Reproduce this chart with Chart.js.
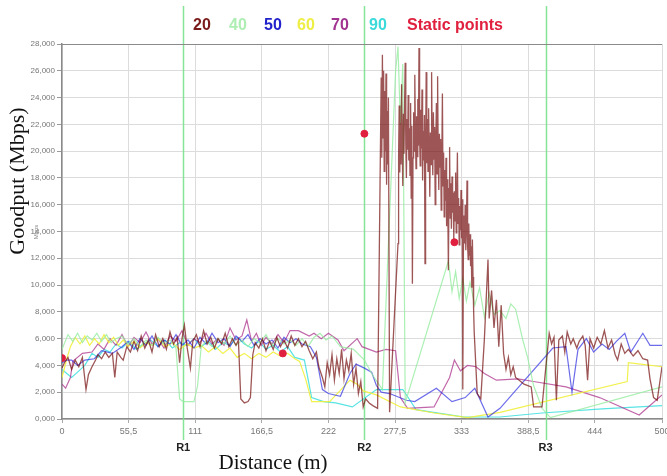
<!DOCTYPE html>
<html>
<head>
<meta charset="utf-8">
<script src="https://cdn.jsdelivr.net/npm/chart.js@4/dist/chart.umd.min.js"></script>
<style>
  html, body { margin: 0; padding: 0; background: #fff; }
  #goodputChart { display: block; }
</style>
</head>
<body>
<canvas id="goodputChart" width="667" height="476"></canvas>
<script>
// distance (m) on x, goodput on y
const distanceTicks = [0, 55.5, 111, 166.5, 222, 277.5, 333, 388.5, 444, 500];
const regionMarks = [101, 252, 403];
const regionNames = ['R1', 'R2', 'R3'];
const seriesNames = ['20', '40', '50', '60', '70', '90'];

const goodput20 = [[0,3.8],[2,4.2],[5,4.6],[8,3.7],[11,4.4],[14,3.9],[17,4.6],[20,2.2],[22,3.3],[25,3.9],[28,4.4],[30,4.8],[33,4.5],[36,5.0],[39,4.6],[42,4.9],[44,3.1],[46,5.0],[49,4.6],[51,4.4],[54,5.4],[57,5.0],[60,5.8],[63,5.1],[66,6.2],[69,5.3],[72,5.9],[75,5.0],[78,6.3],[81,5.4],[84,6.0],[87,5.2],[90,6.5],[93,5.6],[96,6.1],[98,4.2],[100,6.0],[102,7.0],[104,5.5],[107,3.8],[109,5.8],[112,6.3],[115,5.4],[118,6.6],[121,5.6],[124,6.1],[127,5.3],[130,6.0],[133,5.6],[136,6.4],[139,5.4],[142,6.0],[145,5.5],[147,5.9],[149,1.5],[152,1.2],[155,1.3],[157,1.6],[159,4.8],[161,5.7],[164,5.3],[167,6.0],[170,5.1],[173,5.8],[176,5.2],[179,6.1],[182,5.4],[185,5.9],[188,5.3],[191,6.2],[194,5.5],[197,6.0],[200,5.4],[203,5.8],[206,5.1],[209,4.5],[212,5.0],[214,3.9],[217,3.1],[219,2.4],[221,4.2],[223,3.3],[225,4.8],[227,2.9],[229,4.5],[231,3.4],[233,5.2],[235,3.0],[237,4.4],[239,3.6],[241,4.9],[243,2.6],[245,3.8],[247,1.9],[249,2.8],[251,0.9],[253,1.5],[256,1.2],[259,1.0],[263,0.8],[266,25.5],[266.5,19.5],[267,27.2],[267.5,21.0],[268,26.0],[268.5,18.5],[269,24.5],[269.5,20.0],[270,25.8],[270.5,17.5],[271,23.0],[271.5,19.0],[272,24.0],[273,0.5],
  [280,13.1],[280.5,19.6],[281,23.4],[281.5,18.4],[282,22.1],[282.5,19.0],[283,25.0],[283.5,20.2],[284,17.4],[284.5,22.8],[285,19.8],[285.5,23.5],[286,26.6],[286.5,20.5],[287,18.0],[287.5,22.4],[288,20.1],[288.5,24.2],[289,19.3],[289.5,21.7],[290,18.2],[290.5,23.6],[291,16.5],[291.5,21.9],[292,10.1],[292.5,19.5],[293,22.9],[293.5,20.0],[294,25.7],[294.5,21.3],[295,18.7],[295.5,22.6],[296,19.6],[296.5,23.9],[297,20.4],[297.5,27.7],[298,21.0],[298.5,18.9],[299,23.1],[299.5,20.2],[300,24.6],[300.5,17.8],[301,21.5],[301.5,19.3],[302,22.7],[302.5,11.6],[303,20.0],[303.5,25.9],[304,19.1],[304.5,22.4],[305,18.5],[305.5,23.2],[306,20.3],[306.5,16.6],[307,21.4],[307.5,19.0],[308,25.9],[308.5,20.6],[309,18.2],[309.5,22.9],[310,19.4],[310.5,21.8],[311,16.0],[311.5,20.7],[312,23.6],[312.5,18.3],[313,25.6],[313.5,19.7],[314,17.1],[314.5,21.3],[315,18.8],[315.5,20.9],[316,15.6],[316.5,19.2],[317,24.3],[317.5,17.4],[318,19.9],[318.5,15.1],[319,18.6],[319.5,16.3],[320,19.5],[320.5,14.4],[321,17.9],[321.5,15.8],[322,11.1],[322.5,17.2],[323,20.3],[323.5,15.0],[324,17.6],[324.5,14.2],[325,18.1],[325.5,15.4],[326,16.9],[326.5,13.3],[327,17.0],[327.5,14.8],[328,18.4],[328.5,13.9],[329,16.2],[329.5,19.9],[330,14.6],[330.5,16.5],[331,13.0],[331.5,15.9],[332,14.1],[332.5,17.1],[333,13.5],[333.5,16.4],[334,2.2],[334.5,12.4],[335,15.2],[335.5,13.1],[336,16.0],[336.5,12.6],[337,14.3],[337.5,17.8],[338,12.9],[338.5,11.9],[339,14.6],[339.5,12.2],[340,13.8],[340.5,11.4],[341,12.9],[341.5,9.8],[342,13.4],[342.5,10.6],[343,8.2],[343.5,6.5],
  [346,1.9],[349,1.5],[352,6.0],[355,11.9],[356,7.5],[358,9.6],[360,6.8],[362,8.9],[364,5.4],[366,8.5],[368,4.9],[370,3.7],[372,4.6],[374,3.3],[376,3.9],[378,3.1],[381,2.9],[385,2.6],[391,2.4],[393,0.9],[400,0.9],[404,4.6],[406,6.4],[408,5.6],[410,6.1],[412,1.4],[414,5.9],[417,6.2],[419,5.0],[421,6.5],[424,5.6],[426,6.0],[429,5.3],[431,5.8],[434,6.2],[436,5.5],[438,2.9],[440,6.0],[443,5.3],[446,6.1],[449,5.6],[452,6.6],[455,5.3],[458,5.9],[461,4.8],[463,4.4],[466,5.6],[469,4.9],[472,5.2],[476,4.7],[480,5.1],[484,4.5],[488,4.4],[490,3.0],[493,1.6],[496,1.4],[500,3.9]];

const goodput40 = [[0,5.2],[5,6.3],[9,5.8],[13,6.4],[17,5.7],[21,6.2],[25,5.9],[29,6.4],[33,5.8],[37,6.3],[41,5.7],[45,6.0],[50,6.2],[55,5.6],[60,6.0],[65,5.4],[70,5.9],[75,5.5],[80,6.1],[85,5.6],[90,5.9],[95,5.3],[98,1.5],[101,1.3],[110,1.3],[113,2.5],[116,5.4],[120,5.8],[125,5.4],[130,6.0],[135,5.6],[140,6.2],[145,5.5],[150,5.9],[155,5.4],[160,6.0],[165,5.7],[170,6.3],[175,5.5],[180,6.0],[185,5.6],[190,5.9],[195,5.5],[200,6.0],[205,5.4],[210,6.1],[215,6.4],[220,5.9],[225,6.2],[232,5.4],[243,5.2],[252,4.4],[258,3.4],[267,2.2],[278,26.0],[280,27.8],[282,22.0],[284,26.5],[286,1.2],[322,11.8],[325,9.5],[328,11.0],[331,9.0],[334,10.5],[337,8.8],[340,10.2],[344,8.5],[348,9.8],[352,7.6],[356,9.4],[360,7.8],[365,8.1],[370,7.5],[374,8.6],[378,8.2],[384,5.9],[388,4.6],[393,2.5],[400,0.8],[407,0.1],[500,2.4]];

const goodput50 = [[0,4.2],[4,4.4],[8,4.4],[13,4.0],[19,4.4],[27,4.5],[33,5.1],[42,4.9],[50,5.4],[55,5.8],[60,5.2],[65,6.0],[70,5.5],[75,6.2],[80,5.4],[85,5.9],[90,5.6],[95,6.3],[100,5.5],[105,5.9],[110,5.3],[115,6.1],[120,5.6],[125,6.4],[130,5.7],[135,6.0],[140,5.4],[145,6.2],[150,5.8],[155,6.3],[160,5.5],[165,6.0],[170,5.6],[175,5.9],[180,5.3],[185,6.1],[190,5.7],[195,6.0],[200,5.6],[207,5.4],[212,4.6],[217,2.2],[222,1.9],[232,1.7],[240,3.4],[245,4.1],[252,3.8],[258,3.5],[262,2.5],[266,2.0],[273,1.9],[287,1.4],[294,1.3],[312,2.3],[325,1.3],[336,1.6],[344,2.3],[355,0.15],[365,0.8],[409,5.3],[420,5.4],[425,2.0],[430,5.2],[437,6.0],[443,5.0],[450,5.6],[456,5.2],[462,5.8],[469,6.4],[474,5.0],[484,6.4],[490,5.5],[500,5.5]];

const goodput60 = [[0,3.1],[4,4.5],[7,5.4],[11,6.1],[15,5.6],[19,6.2],[23,5.5],[27,6.0],[31,5.6],[35,6.3],[39,5.7],[43,6.1],[47,5.5],[51,5.9],[55,5.4],[60,5.8],[65,5.3],[70,5.7],[75,5.5],[80,6.0],[86,5.4],[92,5.7],[98,5.2],[104,5.6],[110,5.3],[116,5.5],[122,5.0],[128,5.4],[134,4.9],[140,5.3],[146,4.6],[152,4.9],[158,4.5],[164,4.9],[170,4.6],[176,5.0],[182,4.7],[188,4.9],[194,4.5],[198,4.3],[203,3.0],[208,1.3],[223,1.3],[240,2.9],[246,2.6],[251,2.1],[262,1.8],[282,0.9],[310,0.45],[338,0.1],[365,0.5],[471,2.8],[472,4.2],[482,4.1],[500,3.9]];

const goodput70 = [[0,2.6],[3,2.3],[7,3.1],[9,4.3],[17,4.9],[25,5.0],[30,5.6],[35,5.2],[40,6.0],[45,5.5],[50,6.3],[55,5.4],[60,6.1],[65,5.7],[70,6.5],[75,5.6],[80,6.0],[85,5.3],[90,6.2],[95,5.8],[100,6.6],[105,5.5],[110,6.0],[115,5.7],[120,6.4],[125,5.6],[130,6.0],[135,5.5],[140,6.8],[145,5.9],[150,6.2],[154,7.4],[158,5.8],[162,6.4],[166,5.5],[170,6.1],[175,5.6],[180,6.3],[185,5.7],[190,6.6],[197,6.6],[206,6.2],[210,6.4],[216,6.0],[222,6.4],[230,5.9],[235,5.1],[246,6.0],[250,5.4],[262,5.0],[270,5.2],[278,5.1],[282,1.6],[288,0.8],[310,0.9],[323,3.1],[327,4.4],[332,3.6],[338,4.0],[345,3.9],[352,3.4],[362,2.9],[380,3.0],[393,2.8],[420,2.4],[448,1.6],[481,0.3],[500,1.8]];

const goodput90 = [[0,3.7],[4,3.4],[8,3.1],[13,3.5],[19,4.0],[25,4.9],[30,4.6],[35,5.2],[40,5.0],[45,5.6],[50,5.3],[56,5.8],[62,5.2],[68,5.6],[74,5.9],[80,5.4],[86,5.9],[92,5.3],[98,5.7],[104,5.5],[110,6.0],[116,5.4],[122,5.8],[128,5.2],[134,5.7],[140,5.5],[146,6.1],[152,5.6],[158,5.3],[164,5.8],[170,5.2],[176,5.5],[182,5.0],[188,5.4],[194,4.6],[202,4.4],[208,1.6],[218,1.3],[228,1.2],[242,0.9],[262,2.2],[284,2.2],[290,1.4],[295,0.7],[335,0.15],[365,0.15],[400,0.45],[450,0.75],[500,1.0]];

const staticPoints = [[0,4.55],[184,4.9],[252,21.3],[327,13.2]];

const lineColors = ['rgba(112,4,4,0.68)', 'rgba(150,236,160,0.8)', 'rgba(45,45,225,0.7)',
  'rgba(240,240,60,0.9)', 'rgba(172,52,140,0.75)', 'rgba(60,222,222,0.85)'];
const legendColors = ['#7a1a1a', '#aeeeb2', '#2222cc', '#eeee44', '#a03490', '#3adada'];
const staticColor = '#e0203e';

function lineSet(label, data, idx) {
  return {
    label: label,
    data: data,
    borderColor: lineColors[idx],
    borderWidth: idx === 0 ? 1.3 : 1.2,
    pointRadius: 0,
    tension: 0,
    fill: false,
    order: idx === 0 ? 1 : 2 + idx
  };
}

const datasets = [
  lineSet(seriesNames[0], goodput20, 0),
  lineSet(seriesNames[1], goodput40, 1),
  lineSet(seriesNames[2], goodput50, 2),
  lineSet(seriesNames[3], goodput60, 3),
  lineSet(seriesNames[4], goodput70, 4),
  lineSet(seriesNames[5], goodput90, 5),
  {
    type: 'scatter',
    label: 'Static points',
    data: staticPoints,
    backgroundColor: staticColor,
    borderColor: staticColor,
    pointRadius: 3.5,
    order: 0
  }
];

// region markers, legend row and axis titles
const overlay = {
  id: 'overlay',
  beforeDatasetsDraw(chart) {
    const ctx = chart.ctx;
    const x = chart.scales.x;
    ctx.save();
    ctx.strokeStyle = 'rgba(120,225,140,0.9)';
    ctx.lineWidth = 1.5;
    regionMarks.forEach(r => {
      const px = Math.round(x.getPixelForValue(r)) + 0.5;
      ctx.beginPath();
      ctx.moveTo(px, 6);
      ctx.lineTo(px, 440);
      ctx.stroke();
    });
    ctx.restore();
  },
  afterDraw(chart) {
    const ctx = chart.ctx;
    const area = chart.chartArea;
    const x = chart.scales.x;
    ctx.save();

    // top frame line
    ctx.strokeStyle = '#8a8a8a';
    ctx.lineWidth = 1.2;
    ctx.beginPath();
    ctx.moveTo(area.left, area.top + 0.5);
    ctx.lineTo(area.right, area.top + 0.5);
    ctx.stroke();

    // legend row
    ctx.font = 'bold 16px "Liberation Sans Narrow", "Liberation Sans", sans-serif';
    ctx.textBaseline = 'middle';
    ctx.textAlign = 'center';
    const legendX = [202, 238, 273, 306, 340, 378];
    seriesNames.forEach((name, i) => {
      ctx.fillStyle = legendColors[i];
      ctx.fillText(name, legendX[i], 26);
    });
    ctx.textAlign = 'left';
    ctx.fillStyle = staticColor;
    ctx.fillText('Static points', 407, 26);

    // region labels
    ctx.fillStyle = '#222';
    ctx.font = 'bold 11px "Liberation Sans", sans-serif';
    ctx.textAlign = 'center';
    regionMarks.forEach((r, i) => {
      ctx.fillText(regionNames[i], x.getPixelForValue(r), 448);
    });

    // axis titles
    ctx.fillStyle = '#111';
    ctx.font = '21px "Liberation Serif", serif';
    ctx.fillText('Distance (m)', 273, 463);
    ctx.save();
    ctx.font = '22px "Liberation Serif", serif';
    ctx.translate(18, 181);
    ctx.rotate(-Math.PI / 2);
    ctx.fillText('Goodput (Mbps)', 0, 0);
    ctx.restore();

    ctx.save();
    ctx.fillStyle = '#888';
    ctx.font = '6px "Liberation Sans", sans-serif';
    ctx.translate(36, 232);
    ctx.rotate(-Math.PI / 2);
    ctx.fillText('Mbps', 0, 0);
    ctx.restore();

    ctx.restore();
  }
};

new Chart(document.getElementById('goodputChart'), {
  type: 'line',
  data: { datasets: datasets },
  options: {
    responsive: false,
    animation: false,
    layout: { padding: { left: 0, right: 5, top: 44, bottom: 0 } },
    plugins: {
      legend: { display: false },
      tooltip: { enabled: false }
    },
    scales: {
      x: {
        type: 'linear',
        min: 0,
        max: 500,
        afterBuildTicks: s => { s.ticks = distanceTicks.map(v => ({ value: v })); },
        afterFit: s => { s.height = 57; s.paddingLeft = 0; s.paddingRight = 0; },
        ticks: {
          autoSkip: false,
          maxRotation: 0,
          padding: 3,
          color: '#777',
          font: { size: 9, family: '"Liberation Sans Narrow", "Liberation Sans", sans-serif' },
          callback: v => String(v).replace('.', ',')
        },
        grid: { color: '#dcdcdc', tickLength: 4, tickColor: '#aaa' },
        border: { color: '#8a8a8a', width: 1.5 }
      },
      y: {
        min: 0,
        max: 28,
        afterFit: s => { s.width = 62; s.paddingTop = 0; s.paddingBottom = 0; },
        ticks: {
          stepSize: 2,
          padding: 2,
          color: '#777',
          font: { size: 8, family: '"Liberation Sans Narrow", "Liberation Sans", sans-serif' },
          callback: v => v.toFixed(3).replace('.', ',')
        },
        grid: { color: '#dcdcdc', tickLength: 5, tickColor: '#999' },
        border: { color: '#8a8a8a', width: 1.5 }
      }
    }
  },
  plugins: [overlay]
});
</script>
</body>
</html>
